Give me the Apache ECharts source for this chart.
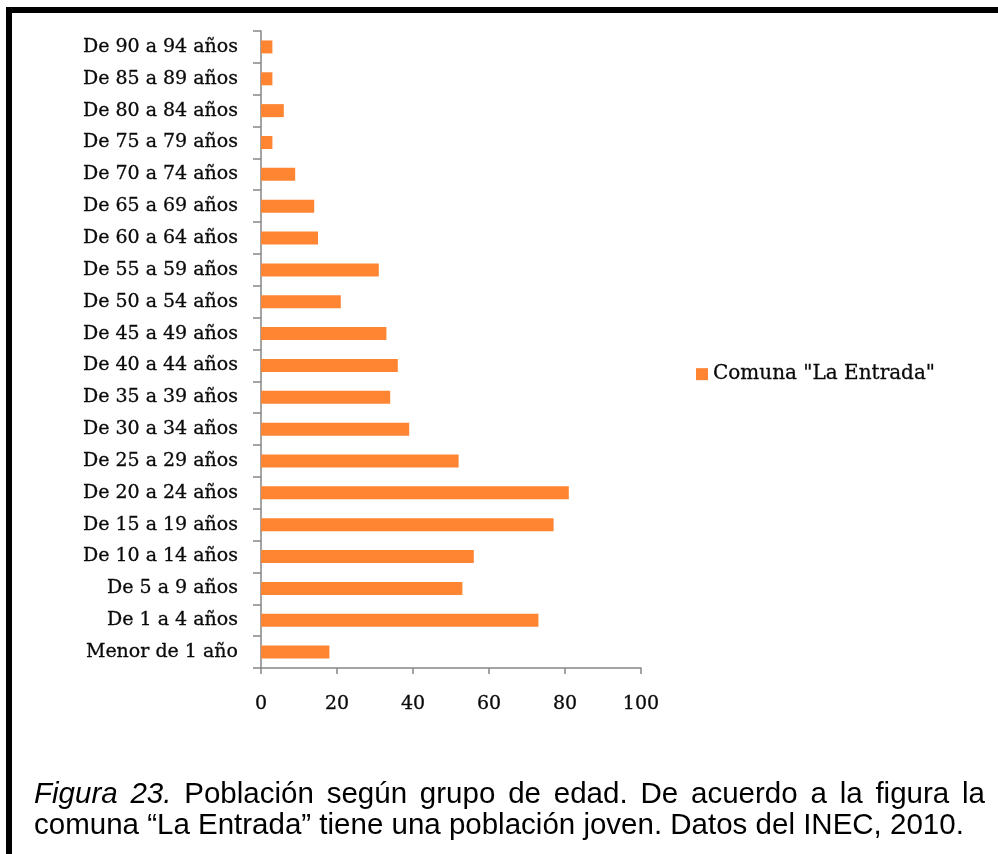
<!DOCTYPE html>
<html>
<head>
<meta charset="utf-8">
<script src="https://cdn.jsdelivr.net/npm/echarts@6/dist/echarts.min.js"></script>
<style>
  html, body { margin: 0; padding: 0; background: #fff; }
  #chart { width: 998px; height: 854px; }
</style>
</head>
<body>
<div id="chart"></div>
<script>
// Age groups, bottom to top on the category axis
const ageGroups = [
  'Menor de 1 año', 'De 1 a 4 años', 'De 5 a 9 años', 'De 10 a 14 años',
  'De 15 a 19 años', 'De 20 a 24 años', 'De 25 a 29 años', 'De 30 a 34 años',
  'De 35 a 39 años', 'De 40 a 44 años', 'De 45 a 49 años', 'De 50 a 54 años',
  'De 55 a 59 años', 'De 60 a 64 años', 'De 65 a 69 años', 'De 70 a 74 años',
  'De 75 a 79 años', 'De 80 a 84 años', 'De 85 a 89 años', 'De 90 a 94 años'
];
// Population per age group
const population = [18, 73, 53, 56, 77, 81, 52, 39, 34, 36, 33, 21, 31, 15, 14, 9, 3, 6, 3, 3];
const seriesName = 'Comuna "La Entrada"';
const xTicks = [0, 20, 40, 60, 80, 100];

const captionItalic = 'Figura 23.';
const captionLine1 = 'Población según grupo de edad. De acuerdo a la figura la';
const captionLine2 = 'comuna “La Entrada” tiene una población joven. Datos del INEC, 2010.';

const serif = '"DejaVu Serif", serif';
const sans = '"Liberation Sans", Arial, sans-serif';
const barColor = '#FF8533';
const axisGray = '#868686';
const ink = '#0a0a0a';

// Justify the first caption line across a fixed width, word by word
const measureCtx = document.createElement('canvas').getContext('2d');
function textWidth(str, font) { measureCtx.font = font; return measureCtx.measureText(str).width; }

const capSize = 29.5;
const capFont = capSize + 'px ' + sans;
const capItFont = 'italic ' + capSize + 'px ' + sans;
const capLeft = 34, capRight = 985;
const capMid1 = 795, capMid2 = 826;
const words1 = captionItalic.split(' ').map(w => ({ t: w, it: true }))
  .concat(captionLine1.split(' ').map(w => ({ t: w, it: false })));
const widths1 = words1.map(w => textWidth(w.t, w.it ? capItFont : capFont));
const gap1 = (capRight - capLeft - widths1.reduce((a, b) => a + b, 0)) / (words1.length - 1);
const captionEls = [];
let cx = capLeft;
words1.forEach((w, i) => {
  captionEls.push({
    type: 'text', x: cx, y: capMid1,
    style: { text: w.t, font: (w.it ? capItFont : capFont), fill: '#000', verticalAlign: 'middle' }
  });
  cx += widths1[i] + gap1;
});
captionEls.push({
  type: 'text', x: capLeft, y: capMid2,
  style: { text: captionLine2, font: capFont, fill: '#000', verticalAlign: 'middle' }
});

const labelStyle = {
  fontFamily: serif, fontSize: 19, color: ink,
  textBorderColor: ink, textBorderWidth: 0.3
};

const chart = echarts.init(document.getElementById('chart'), null, { renderer: 'canvas' });
chart.setOption({
  backgroundColor: '#fff',
  animation: false,
  grid: { left: 261, right: 357, top: 31, bottom: 186, containLabel: false },
  legend: {
    show: true,
    left: 696, top: 364, padding: 0,
    icon: 'rect', itemWidth: 12, itemHeight: 12,
    textStyle: Object.assign({}, labelStyle, { fontSize: 20 }),
    data: [seriesName]
  },
  xAxis: {
    type: 'value', min: 0, max: 100, interval: 20,
    axisLine: { show: true, lineStyle: { color: axisGray, width: 1.5 } },
    axisTick: { show: true, length: 6, lineStyle: { color: axisGray, width: 1.5 } },
    axisLabel: Object.assign({
      margin: 27,
      formatter: v => xTicks.includes(v) ? String(v) : ''
    }, labelStyle),
    splitLine: { show: false }
  },
  yAxis: {
    type: 'category', data: ageGroups, boundaryGap: true,
    axisLine: { show: true, lineStyle: { color: axisGray, width: 1.5 } },
    axisTick: { show: true, length: 8, alignWithLabel: false, lineStyle: { color: axisGray, width: 1.5 } },
    axisLabel: Object.assign({ margin: 23 }, labelStyle)
  },
  series: [{
    name: seriesName, type: 'bar', data: population,
    barWidth: 13, itemStyle: { color: barColor }
  }],
  graphic: [
    // Frame: heavy black rules along the top and left edges
    { type: 'rect', shape: { x: 6, y: 7, width: 992, height: 6 }, style: { fill: '#000' } },
    { type: 'rect', shape: { x: 6, y: 7, width: 6, height: 847 }, style: { fill: '#000' } }
  ].concat(captionEls)
});
</script>
</body>
</html>
